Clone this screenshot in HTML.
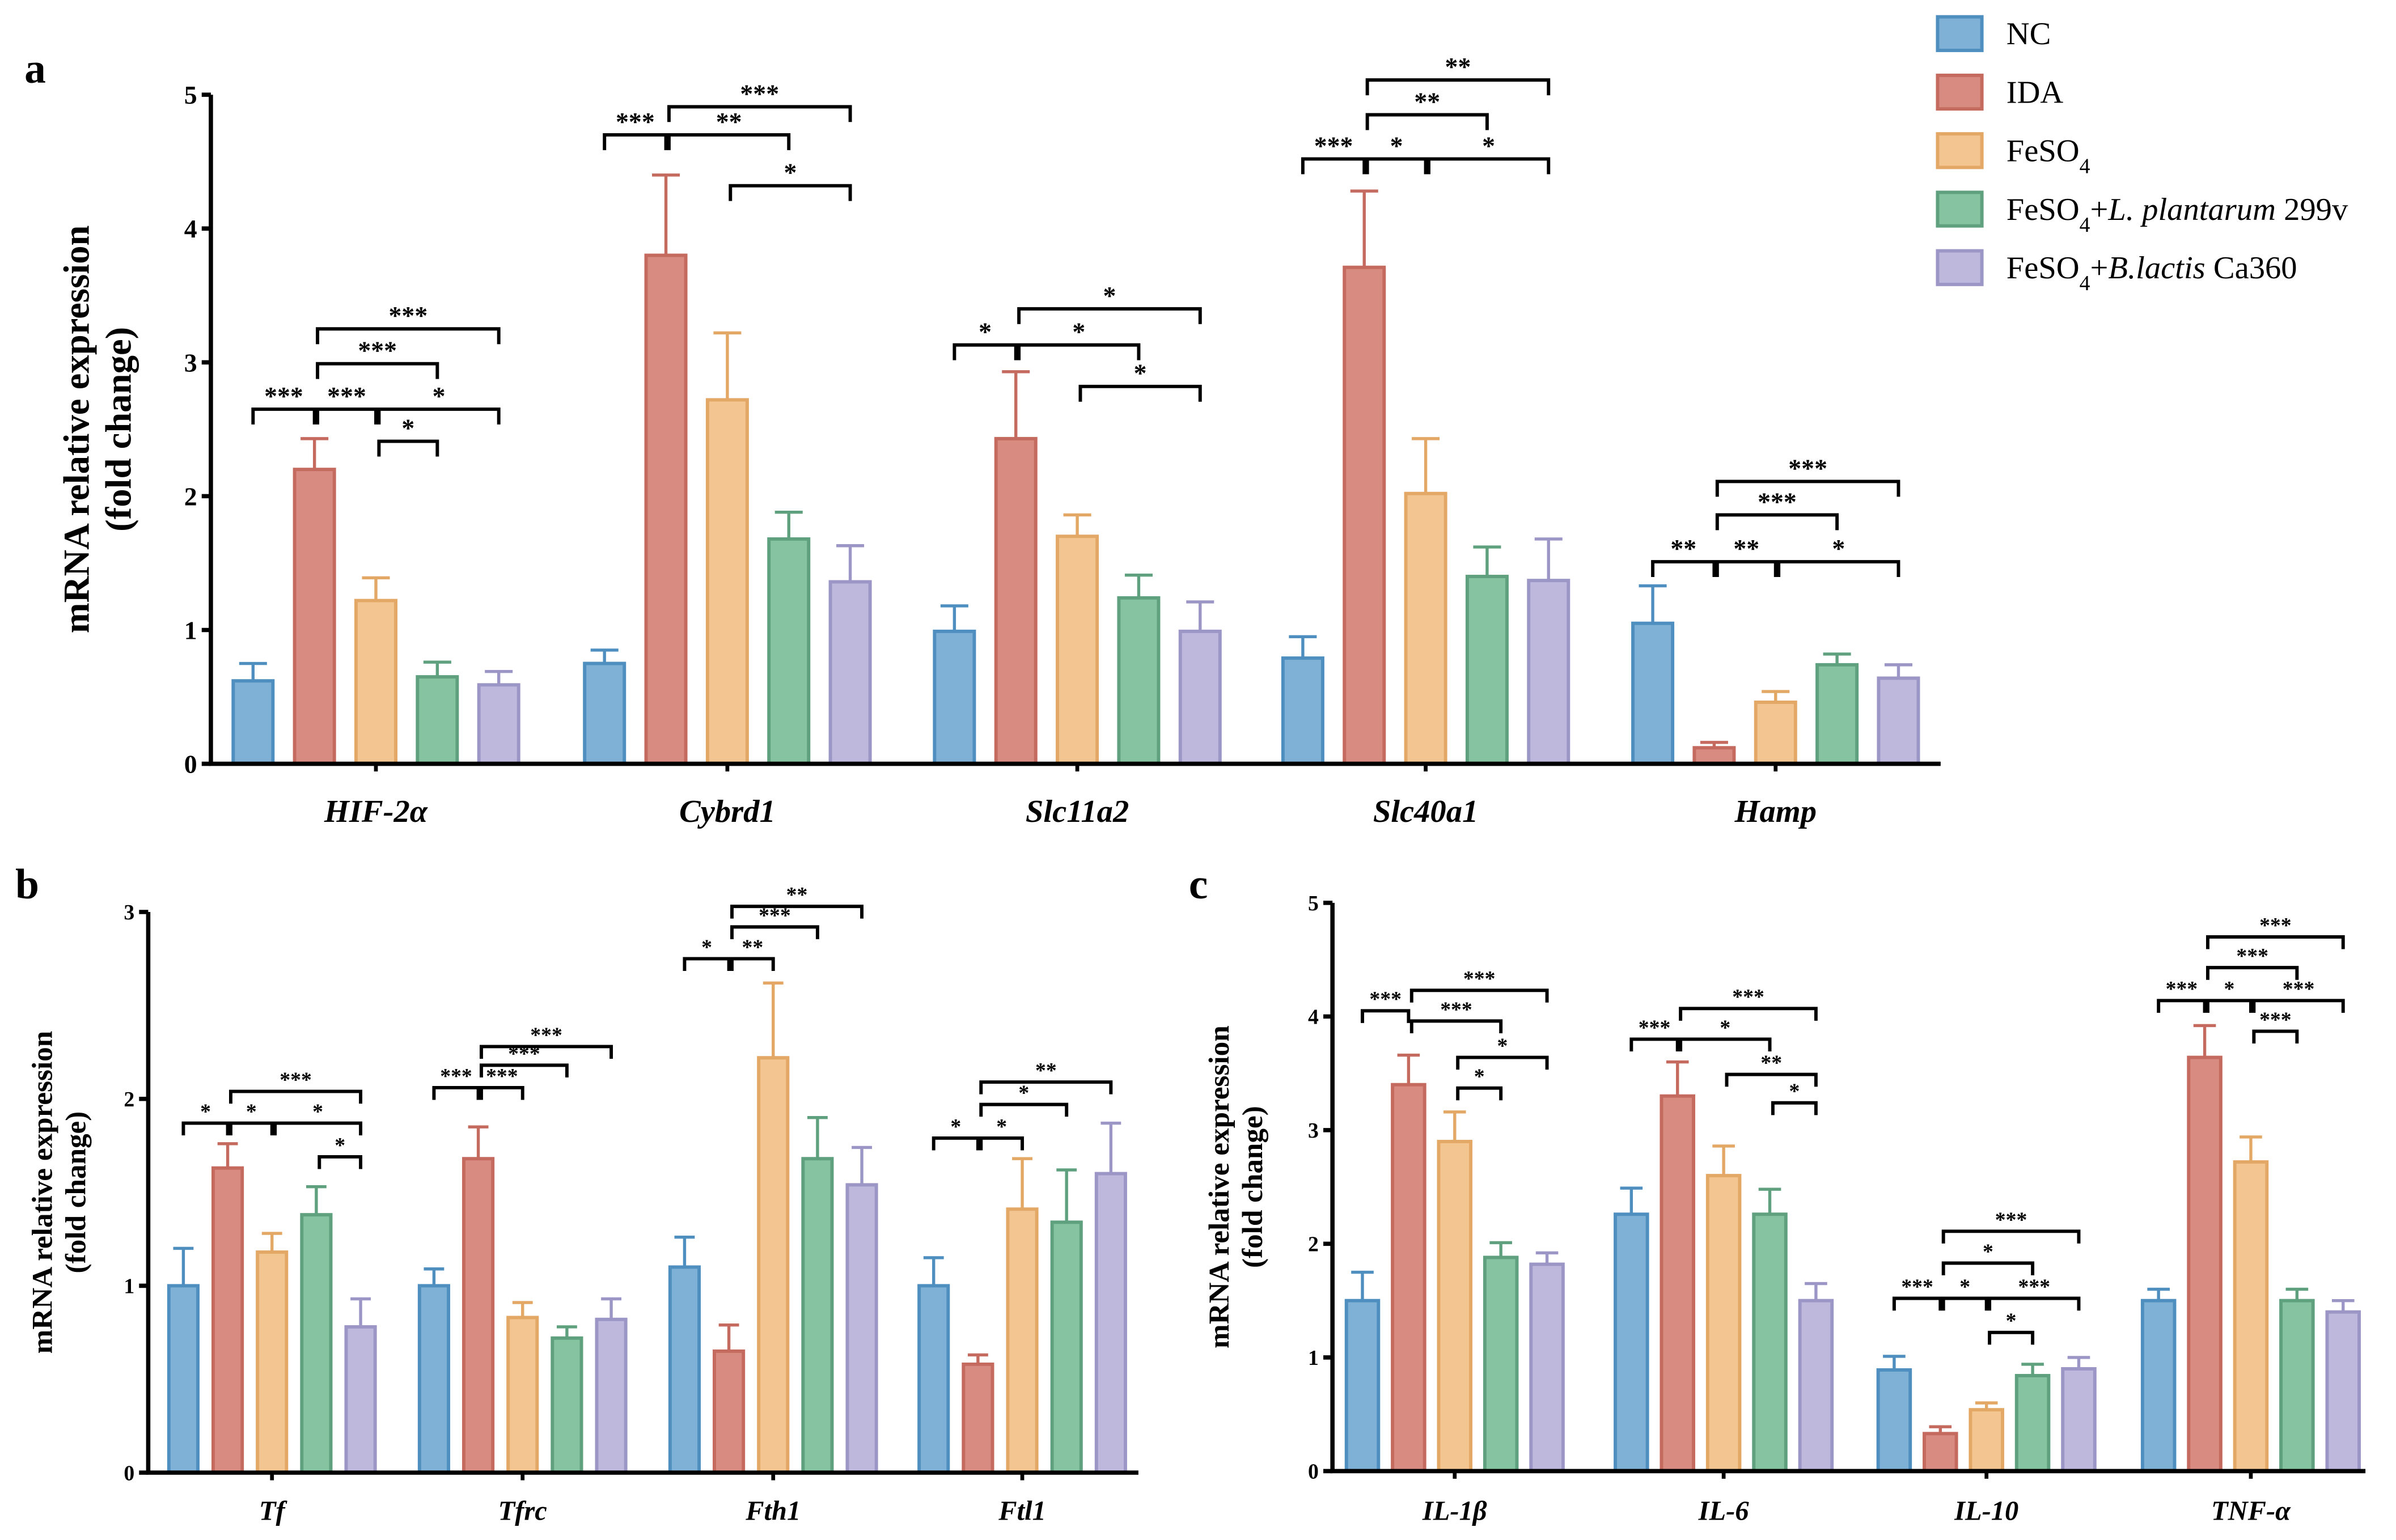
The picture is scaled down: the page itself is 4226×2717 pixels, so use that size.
<!DOCTYPE html>
<html><head><meta charset="utf-8"><style>
html,body{margin:0;padding:0;background:#fff}
svg{display:block}
text{font-family:"Liberation Serif",serif;font-weight:bold;fill:#000}
</style></head><body>
<svg id="fig" width="4226" height="2717" viewBox="0 0 1568 1008.1" xmlns="http://www.w3.org/2000/svg"></svg>
<script>
// ---------- DATA ----------
const groupsA = ["HIF-2α","Cybrd1","Slc11a2","Slc40a1","Hamp"];
const meansA = [[0.62,2.2,1.22,0.65,0.59],[0.75,3.8,2.72,1.68,1.36],[0.99,2.43,1.7,1.24,0.99],[0.79,3.71,2.02,1.4,1.37],[1.05,0.12,0.46,0.74,0.64]];
const errsA = [[0.13,0.23,0.17,0.11,0.1],[0.1,0.6,0.5,0.2,0.27],[0.19,0.5,0.16,0.17,0.22],[0.16,0.57,0.41,0.22,0.31],[0.28,0.04,0.08,0.08,0.1]];
const sigA = [[0,0,1,2.65,"***"],[0,1,2,2.65,"***"],[0,1,3,2.99,"***"],[0,1,4,3.25,"***"],[0,2,4,2.65,"*"],[0,2,3,2.41,"*"],
 [1,0,1,4.7,"***"],[1,1,3,4.7,"**"],[1,1,4,4.91,"***"],[1,2,4,4.32,"*"],
 [2,0,1,3.13,"*"],[2,1,3,3.13,"*"],[2,1,4,3.4,"*"],[2,2,4,2.82,"*"],
 [3,0,1,4.52,"***"],[3,1,2,4.52,"*"],[3,2,4,4.52,"*"],[3,1,3,4.85,"**"],[3,1,4,5.11,"**"],
 [4,0,1,1.51,"**"],[4,1,2,1.51,"**"],[4,2,4,1.51,"*"],[4,1,3,1.86,"***"],[4,1,4,2.11,"***"]];
const ticksA = [0,1,2,3,4,5];

const groupsB = ["Tf","Tfrc","Fth1","Ftl1"];
const meansB = [[1.0,1.63,1.18,1.38,0.78],[1.0,1.68,0.83,0.72,0.82],[1.1,0.65,2.22,1.68,1.54],[1.0,0.58,1.41,1.34,1.6]];
const errsB = [[0.2,0.13,0.1,0.15,0.15],[0.09,0.17,0.08,0.06,0.11],[0.16,0.14,0.4,0.22,0.2],[0.15,0.05,0.27,0.28,0.27]];
const sigB = [[0,0,1,1.87,"*"],[0,1,2,1.87,"*"],[0,2,4,1.87,"*"],[0,1,4,2.04,"***"],[0,3,4,1.69,"*"],
 [1,0,1,2.06,"***"],[1,1,2,2.06,"***"],[1,1,3,2.18,"***"],[1,1,4,2.28,"***"],
 [2,0,1,2.75,"*"],[2,1,2,2.75,"**"],[2,1,3,2.92,"***"],[2,1,4,3.03,"**"],
 [3,0,1,1.79,"*"],[3,1,2,1.79,"*"],[3,1,3,1.97,"*"],[3,1,4,2.09,"**"]];
const ticksB = [0,1,2,3];

const groupsC = ["IL-1β","IL-6","IL-10","TNF-α"];
const meansC = [[1.5,3.4,2.9,1.88,1.82],[2.26,3.3,2.6,2.26,1.5],[0.89,0.33,0.54,0.84,0.9],[1.5,3.64,2.72,1.5,1.4]];
const errsC = [[0.25,0.26,0.26,0.13,0.1],[0.23,0.3,0.26,0.22,0.15],[0.12,0.06,0.06,0.1,0.1],[0.1,0.28,0.22,0.1,0.1]];
const sigC = [[0,0,1,4.05,"***"],[0,1,4,4.23,"***"],[0,1,3,3.96,"***"],[0,2,4,3.64,"*"],[0,2,3,3.37,"*"],
 [1,0,1,3.8,"***"],[1,1,4,4.07,"***"],[1,1,3,3.8,"*"],[1,2,4,3.49,"**"],[1,3,4,3.24,"*"],
 [2,0,1,1.52,"***"],[2,1,2,1.52,"*"],[2,2,4,1.52,"***"],[2,1,3,1.83,"*"],[2,1,4,2.11,"***"],[2,2,3,1.22,"*"],
 [3,0,1,4.14,"***"],[3,1,2,4.14,"*"],[3,2,4,4.14,"***"],[3,1,4,4.7,"***"],[3,1,3,4.43,"***"],[3,2,3,3.87,"***"]];
const ticksC = [0,1,2,3,4,5];

const seriesNames = ["NC","IDA","FeSO4","FeSO4+L. plantarum 299v","FeSO4+B.lactis Ca360"];
const fills = ["#7fb1d6","#d88b81","#f2c591","#86c3a0","#bdb8dc"];
const strokes = ["#4f8fc0","#c56a5e","#e4a866","#5fa07e","#9b96c6"];

// ---------- DRAW ----------
const NS="http://www.w3.org/2000/svg";
const svg=document.getElementById('fig');
function mk(tag,attrs,parent){const e=document.createElementNS(NS,tag);for(const k in attrs)e.setAttribute(k,attrs[k]);(parent||svg).appendChild(e);return e;}

function panel(cfg){
  const g=mk('g',{});
  
  
  const y=v=>cfg.y0-(v/cfg.ymax)*(cfg.y0-cfg.ytop);
  const xc=(gi,si)=>cfg.gx[gi]+(si-2)*cfg.sp;
  // bars
  cfg.means.forEach((row,gi)=>row.forEach((v,si)=>{
    const x=xc(gi,si), e=cfg.errs[gi][si];
    const el=mk('line',{x1:x,x2:x,y1:y(v),y2:y(v+e),stroke:strokes[si],'stroke-width':2},g);
    
    
    const cap=mk('line',{x1:x-cfg.bw*0.35,x2:x+cfg.bw*0.35,y1:y(v+e),y2:y(v+e),stroke:strokes[si],'stroke-width':2},g);
    
    
    const r=mk('rect',{x:x-cfg.bw/2,y:y(v),width:cfg.bw,height:cfg.y0-y(v),fill:fills[si],stroke:strokes[si],'stroke-width':2.2},g);
    
    
  }));
  // brackets
  cfg.sig.forEach(s=>{
    const [gi,a,b,lv,lab]=s, x1=xc(gi,a)+(a>0?2:0), x2=xc(gi,b)-(b<4?0:0), yy=y(lv);
    const p=mk('path',{d:`M${x1},${yy+cfg.tk}V${yy}H${x2}V${yy+cfg.tk}`,fill:'none',stroke:'#000','stroke-width':2.2},g);
    
    
    const t=mk('text',{x:(x1+x2)/2,y:yy-3,'text-anchor':'middle','font-size':cfg.sf},g);
    t.textContent=lab;
    
    
  });
  // axes
  const ax=mk('path',{d:`M${cfg.ax},${cfg.ytop}V${cfg.y0}H${cfg.xend}`,fill:'none',stroke:'#000','stroke-width':2.8},g);
  
  
  cfg.ticks.forEach(v=>{
    mk('line',{x1:cfg.ax-6,x2:cfg.ax,y1:y(v),y2:y(v),stroke:'#000','stroke-width':2.8},g);
    const t=mk('text',{x:cfg.ax-9,y:y(v)+cfg.tf*0.35,'text-anchor':'end','font-size':cfg.tf},g);
    t.textContent=v;
    
    
  });
  cfg.groups.forEach((n,gi)=>{
    mk('line',{x1:cfg.gx[gi],x2:cfg.gx[gi],y1:cfg.y0,y2:cfg.y0+5,stroke:'#000','stroke-width':2.5},g);
    const t=mk('text',{x:cfg.gx[gi],y:cfg.y0+cfg.lo,'text-anchor':'middle','font-size':cfg.lf,'font-style':'italic'},g);
    t.textContent=n;
    
    
  });
  const yt=mk('text',{transform:`translate(${cfg.tx},${(cfg.y0+cfg.ytop)/2}) rotate(-90)`,'text-anchor':'middle','font-size':cfg.yf},g);
  
  
  const s1=mk('tspan',{x:0,dy:0},yt); s1.textContent='mRNA relative expression';
  const s2=mk('tspan',{x:0,dy:cfg.yf*1.15},yt); s2.textContent='(fold change)';
  const pl=mk('text',{x:cfg.px,y:cfg.py,'font-size':28},g);
  pl.textContent=cfg.letter;
  
  
}

panel({name:'panel-a',letter:'a',px:16,py:54,groups:groupsA,means:meansA,errs:errsA,sig:sigA,ticks:ticksA,
  ymax:5,y0:500,ytop:62,ax:138,xend:1270,gx:[246,476,705,933,1162],sp:40.2,bw:26,tk:10,sf:17,tf:17,lf:21,lo:38,yf:24,tx:58});
panel({name:'panel-b',letter:'b',px:10,py:588,groups:groupsB,means:meansB,errs:errsB,sig:sigB,ticks:ticksB,
  ymax:3,y0:964,ytop:597,ax:97,xend:745,gx:[178,342,506,669],sp:29,bw:19,tk:8,sf:14,tf:14,lf:18,lo:31,yf:19,tx:34});
panel({name:'panel-c',letter:'c',px:778,py:588,groups:groupsC,means:meansC,errs:errsC,sig:sigC,ticks:ticksC,
  ymax:5,y0:963,ytop:591,ax:872,xend:1548,gx:[952,1128,1300,1473],sp:30.2,bw:21,tk:8,sf:14,tf:14,lf:18,lo:32,yf:19,tx:804});

// legend
const lg=mk('g',{});


const legendLabels=['NC','IDA','FeSO<tspan baseline-shift="sub" font-size="14">4</tspan>',
 'FeSO<tspan baseline-shift="sub" font-size="14">4</tspan>+<tspan font-style="italic">L. plantarum</tspan> 299v',
 'FeSO<tspan baseline-shift="sub" font-size="14">4</tspan>+<tspan font-style="italic">B.lactis</tspan> Ca360'];
seriesNames.forEach((n,i)=>{
  const yy=22+i*38.3;
  const r=mk('rect',{x:1268,y:yy-11,width:29,height:22,fill:fills[i],stroke:strokes[i],'stroke-width':2.2},lg);
  
  
  const t=mk('text',{x:1313,y:yy+7,'font-size':21,'font-weight':'normal',style:'font-weight:normal'},lg);
  t.innerHTML=legendLabels[i];
  
  
});
</script>
</body></html>
